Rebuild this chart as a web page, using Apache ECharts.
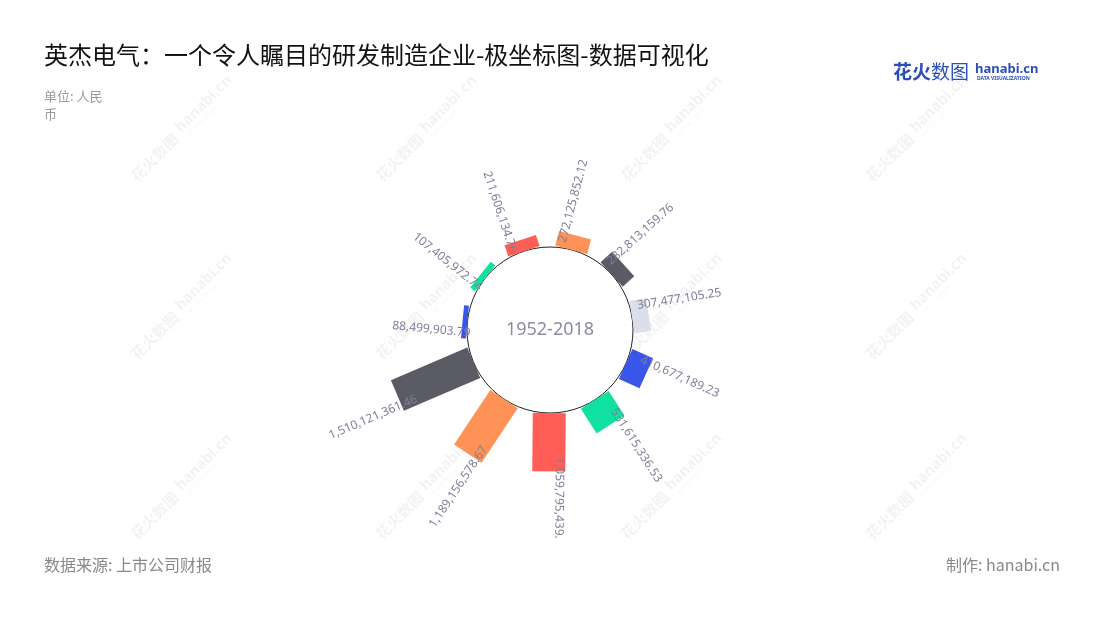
<!DOCTYPE html>
<html>
<head>
<meta charset="utf-8">
<script src="https://cdn.jsdelivr.net/npm/echarts@6/dist/echarts.min.js"></script>
<style>
html,body{margin:0;padding:0;background:#fff;}
#chart{width:1100px;height:620px;}
</style>
</head>
<body>
<div id="chart"></div>
<script>
// ---- data ----
const categories = ['1', '2', '3', '4', '5', '6', '7', '8', '9', '10', '11'];
const values = [88499903.79, 107405972.74, 211606134.76, 272125852.12, 282813159.76, 307477105.25,
                410677189.23, 531615336.53, 1059795439, 1189156578.67, 1510121361.46];
const valueLabels = ['88,499,903.79', '107,405,972.74', '211,606,134.76', '272,125,852.12', '282,813,159.76',
                     '307,477,105.25', '410,677,189.23', '531,615,336.53', '1,059,795,439.', '1,189,156,578.67',
                     '1,510,121,361.46'];
const centerLabel = '1952-2018';
const titleText = '英杰电气：一个令人瞩目的研发制造企业-极坐标图-数据可视化';
const unitText = '单位: 人民币';
const sourceText = '数据来源: 上市公司财报';
const makerText = '制作: hanabi.cn';

// ---- styles ----
const palette = ['#3a56e8', '#10e0a0', '#ff5e57', '#ff9257', '#5b5b66', '#dcdfea'];
const labelColor = '#7e7f97';
const barWidth = 33;

const chart = echarts.init(document.getElementById('chart'));

const wmCols = [180, 425, 670, 915];
const wmRows = [132, 310, 490];
const wmFill = 'rgba(0,0,0,0.05)';
const watermarks = [];
wmRows.forEach(y => wmCols.forEach(x => {
  watermarks.push({
    type: 'group', x: x, y: y, rotation: Math.PI / 4, silent: true, z: -10,
    children: [
      {type: 'text', x: -66, y: 0, style: {text: '花火数图', font: 'bold 15px "Noto Sans CJK SC"', fill: wmFill, verticalAlign: 'middle'}},
      {type: 'text', x: 0, y: -3, style: {text: 'hanabi.cn', font: 'bold 15px "Noto Sans"', fill: wmFill, verticalAlign: 'middle'}},
      {type: 'text', x: 2, y: 8, style: {text: 'DATA VISUALIZATION', font: '4px "Noto Sans"', fill: wmFill, verticalAlign: 'middle'}}
    ]
  });
}));

const option = {
  backgroundColor: '#fff',
  animation: false,
  title: [
    {text: titleText, left: 39, top: 38,
     textStyle: {fontSize: 24, fontWeight: 'normal', color: '#111', fontFamily: '"Noto Sans CJK SC"'}},
    {text: unitText, left: 39, top: 82,
     textStyle: {fontSize: 13, fontWeight: 'normal', color: '#999', fontFamily: '"Noto Sans CJK SC"',
                 width: 66, overflow: 'break', lineHeight: 18}}
  ],
  graphic: watermarks.concat([
    {type: 'text', left: 44, top: 557, style: {text: sourceText, font: '16px "Noto Sans CJK SC"', fill: '#888'}},
    {type: 'text', right: 40, top: 557, style: {text: makerText, font: '16px "Noto Sans CJK SC"', fill: '#888'}},
    {type: 'text', x: 893, y: 72, style: {text: '花火', font: 'bold 19px "Noto Sans CJK SC"', fill: '#2c4fb5', verticalAlign: 'middle'}},
    {type: 'text', x: 931, y: 72, style: {text: '数图', font: '19px "Noto Sans CJK SC"', fill: '#2c4fb5', verticalAlign: 'middle'}},
    {type: 'text', x: 975, y: 69, style: {text: 'hanabi.cn', font: 'bold 13px "Noto Sans"', fill: '#2c4fb5', verticalAlign: 'middle'}},
    {type: 'text', x: 977, y: 79, style: {text: 'DATA VISUALIZATION', font: 'bold 5px "Noto Sans"', fill: '#2c4fb5', verticalAlign: 'middle'}}
  ]),
  polar: {center: [550, 330], radius: [83, 171]},
  angleAxis: {
    type: 'category', data: categories, boundaryGap: false,
    startAngle: 174.6, endAngle: -189.5, clockwise: true, show: false
  },
  radiusAxis: {type: 'value', min: 0, max: 1600000000, show: false},
  series: [
    {
      type: 'pie', center: [550, 330], radius: [0, 83], silent: true, z: 1,
      data: [{value: 1, name: centerLabel}],
      itemStyle: {color: '#fff', borderColor: '#222', borderWidth: 1},
      label: {show: true, position: 'center', formatter: centerLabel, fontSize: 18,
              color: '#8b8ba3', fontFamily: '"Noto Sans"'},
      labelLine: {show: false},
      emphasis: {disabled: true}
    },
    {
      type: 'custom', coordinateSystem: 'polar', z: 2,
      data: values.map((v, i) => [v, categories[i]]),
      encode: {radius: 0, angle: 1},
      renderItem: function (params, api) {
        const i = params.dataIndex;
        const cs = params.coordSys;
        const cx = cs.cx, cy = cs.cy, r0 = cs.r0;
        const idx = api.value(1);
        const pEnd = api.coord([api.value(0), idx]);
        const pMax = api.coord([1600000000, idx]);
        const ang = Math.atan2(-(pMax[1] - cy), pMax[0] - cx);
        const u = [Math.cos(ang), -Math.sin(ang)];
        const n = [u[1], -u[0]];
        const rEnd = Math.hypot(pEnd[0] - cx, pEnd[1] - cy);
        const h = barWidth / 2;
        const pt = (r, s) => [cx + u[0] * r + n[0] * s, cy + u[1] * r + n[1] * s];
        const points = [pt(r0, h), pt(rEnd, h), pt(rEnd, -h), pt(r0, -h)];
        let deg = ang * 180 / Math.PI;
        while (deg > 180) deg -= 360;
        while (deg <= -180) deg += 360;
        const right = deg > -95 && deg <= 90;
        const tp = pt(0.9 * rEnd, 10.5);
        return {
          type: 'group',
          children: [
            {type: 'polygon', shape: {points: points}, style: {fill: palette[i % palette.length]}},
            {type: 'text', x: tp[0], y: tp[1], rotation: right ? ang : ang + Math.PI,
             style: {text: valueLabels[i], fill: labelColor, font: '12px "Noto Sans"',
                     align: right ? 'left' : 'right', verticalAlign: 'middle'}}
          ]
        };
      }
    }
  ]
};
chart.setOption(option);
</script>
</body>
</html>
